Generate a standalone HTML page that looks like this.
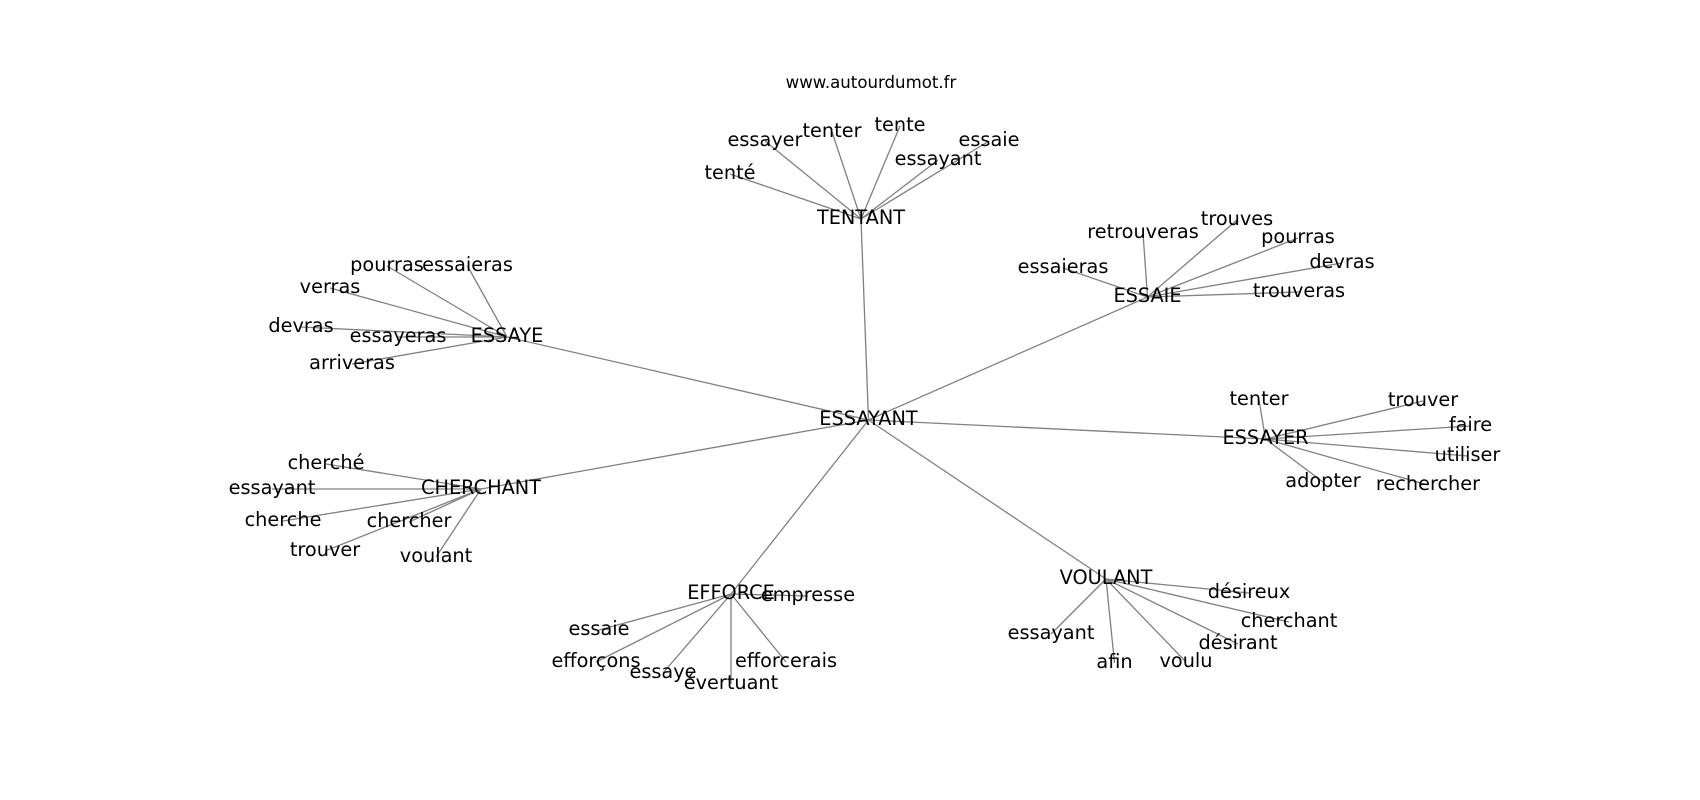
<!DOCTYPE html>
<html>
<head>
<meta charset="utf-8">
<style>
html,body{margin:0;padding:0;background:#fff;}
svg{display:block;}
text{font-family:"DejaVu Sans","Liberation Sans",sans-serif;fill:#000;}
.l{font-size:19.3px;}
.t{font-size:16.6px;}
line{stroke:#808080;stroke-width:1.3;}
</style>
</head>
<body>
<svg width="1700" height="800" viewBox="0 0 1700 800" xmlns="http://www.w3.org/2000/svg">
<g>
<!-- hub edges -->
<line x1="868.5" y1="420" x2="861" y2="219"/>
<line x1="868.5" y1="420" x2="1147.5" y2="297"/>
<line x1="868.5" y1="420" x2="507" y2="337"/>
<line x1="868.5" y1="420" x2="1265.5" y2="439"/>
<line x1="868.5" y1="420" x2="481" y2="489"/>
<line x1="868.5" y1="420" x2="731" y2="594"/>
<line x1="868.5" y1="420" x2="1106" y2="579"/>
<!-- TENTANT -->
<line x1="861" y1="219" x2="730" y2="174"/>
<line x1="861" y1="219" x2="765" y2="141"/>
<line x1="861" y1="219" x2="832" y2="132"/>
<line x1="861" y1="219" x2="900" y2="126"/>
<line x1="861" y1="219" x2="938" y2="160"/>
<line x1="861" y1="219" x2="989" y2="141"/>
<!-- ESSAYE -->
<line x1="507" y1="337" x2="387" y2="266"/>
<line x1="507" y1="337" x2="467.5" y2="266"/>
<line x1="507" y1="337" x2="330" y2="288"/>
<line x1="507" y1="337" x2="301" y2="327"/>
<line x1="507" y1="337" x2="398" y2="337"/>
<line x1="507" y1="337" x2="352" y2="364"/>
<!-- ESSAIE -->
<line x1="1147.5" y1="297" x2="1143" y2="233"/>
<line x1="1147.5" y1="297" x2="1237" y2="220"/>
<line x1="1147.5" y1="297" x2="1298" y2="238"/>
<line x1="1147.5" y1="297" x2="1063" y2="268"/>
<line x1="1147.5" y1="297" x2="1342" y2="263"/>
<line x1="1147.5" y1="297" x2="1299" y2="292"/>
<!-- ESSAYER -->
<line x1="1265.5" y1="439" x2="1259" y2="400"/>
<line x1="1265.5" y1="439" x2="1423" y2="401"/>
<line x1="1265.5" y1="439" x2="1470.5" y2="426"/>
<line x1="1265.5" y1="439" x2="1467.5" y2="456"/>
<line x1="1265.5" y1="439" x2="1323" y2="482"/>
<line x1="1265.5" y1="439" x2="1428" y2="485"/>
<!-- CHERCHANT -->
<line x1="481" y1="489" x2="326" y2="464"/>
<line x1="481" y1="489" x2="272" y2="489"/>
<line x1="481" y1="489" x2="283" y2="521"/>
<line x1="481" y1="489" x2="409" y2="522"/>
<line x1="481" y1="489" x2="325" y2="551"/>
<line x1="481" y1="489" x2="436" y2="557"/>
<!-- EFFORCE -->
<line x1="731" y1="594" x2="808" y2="596"/>
<line x1="731" y1="594" x2="599" y2="630"/>
<line x1="731" y1="594" x2="596" y2="662"/>
<line x1="731" y1="594" x2="663" y2="673"/>
<line x1="731" y1="594" x2="731" y2="684"/>
<line x1="731" y1="594" x2="786" y2="662"/>
<!-- VOULANT -->
<line x1="1106" y1="579" x2="1249" y2="593"/>
<line x1="1106" y1="579" x2="1289" y2="622"/>
<line x1="1106" y1="579" x2="1051" y2="634"/>
<line x1="1106" y1="579" x2="1238" y2="644"/>
<line x1="1106" y1="579" x2="1114.5" y2="663"/>
<line x1="1106" y1="579" x2="1186" y2="662"/>
</g>
<g text-anchor="middle">
<text class="t" x="871" y="88">www.autourdumot.fr</text>

<text class="l" x="868.5" y="425">ESSAYANT</text>
<text class="l" x="861" y="224">TENTANT</text>
<text class="l" x="507" y="342">ESSAYE</text>
<text class="l" x="1147.5" y="302">ESSAIE</text>
<text class="l" x="1265.5" y="444">ESSAYER</text>
<text class="l" x="481" y="494">CHERCHANT</text>
<text class="l" x="731" y="599">EFFORCE</text>
<text class="l" x="1106" y="584">VOULANT</text>

<text class="l" x="730" y="179">tenté</text>
<text class="l" x="765" y="146">essayer</text>
<text class="l" x="832" y="137">tenter</text>
<text class="l" x="900" y="131">tente</text>
<text class="l" x="938" y="165">essayant</text>
<text class="l" x="989" y="146">essaie</text>

<text class="l" x="387" y="271">pourras</text>
<text class="l" x="467.5" y="271">essaieras</text>
<text class="l" x="330" y="293">verras</text>
<text class="l" x="301" y="332">devras</text>
<text class="l" x="398" y="342">essayeras</text>
<text class="l" x="352" y="369">arriveras</text>

<text class="l" x="1143" y="238">retrouveras</text>
<text class="l" x="1237" y="225">trouves</text>
<text class="l" x="1298" y="243">pourras</text>
<text class="l" x="1063" y="273">essaieras</text>
<text class="l" x="1342" y="268">devras</text>
<text class="l" x="1299" y="297">trouveras</text>

<text class="l" x="1259" y="405">tenter</text>
<text class="l" x="1423" y="406">trouver</text>
<text class="l" x="1470.5" y="431">faire</text>
<text class="l" x="1467.5" y="461">utiliser</text>
<text class="l" x="1323" y="487">adopter</text>
<text class="l" x="1428" y="490">rechercher</text>

<text class="l" x="326" y="469">cherché</text>
<text class="l" x="272" y="494">essayant</text>
<text class="l" x="283" y="526">cherche</text>
<text class="l" x="409" y="527">chercher</text>
<text class="l" x="325" y="556">trouver</text>
<text class="l" x="436" y="562">voulant</text>

<text class="l" x="808" y="601">empresse</text>
<text class="l" x="599" y="635">essaie</text>
<text class="l" x="596" y="667">efforçons</text>
<text class="l" x="663" y="678">essaye</text>
<text class="l" x="731" y="689">évertuant</text>
<text class="l" x="786" y="667">efforcerais</text>

<text class="l" x="1249" y="598">désireux</text>
<text class="l" x="1289" y="627">cherchant</text>
<text class="l" x="1051" y="639">essayant</text>
<text class="l" x="1238" y="649">désirant</text>
<text class="l" x="1114.5" y="668">afin</text>
<text class="l" x="1186" y="667">voulu</text>
</g>
</svg>
</body>
</html>
